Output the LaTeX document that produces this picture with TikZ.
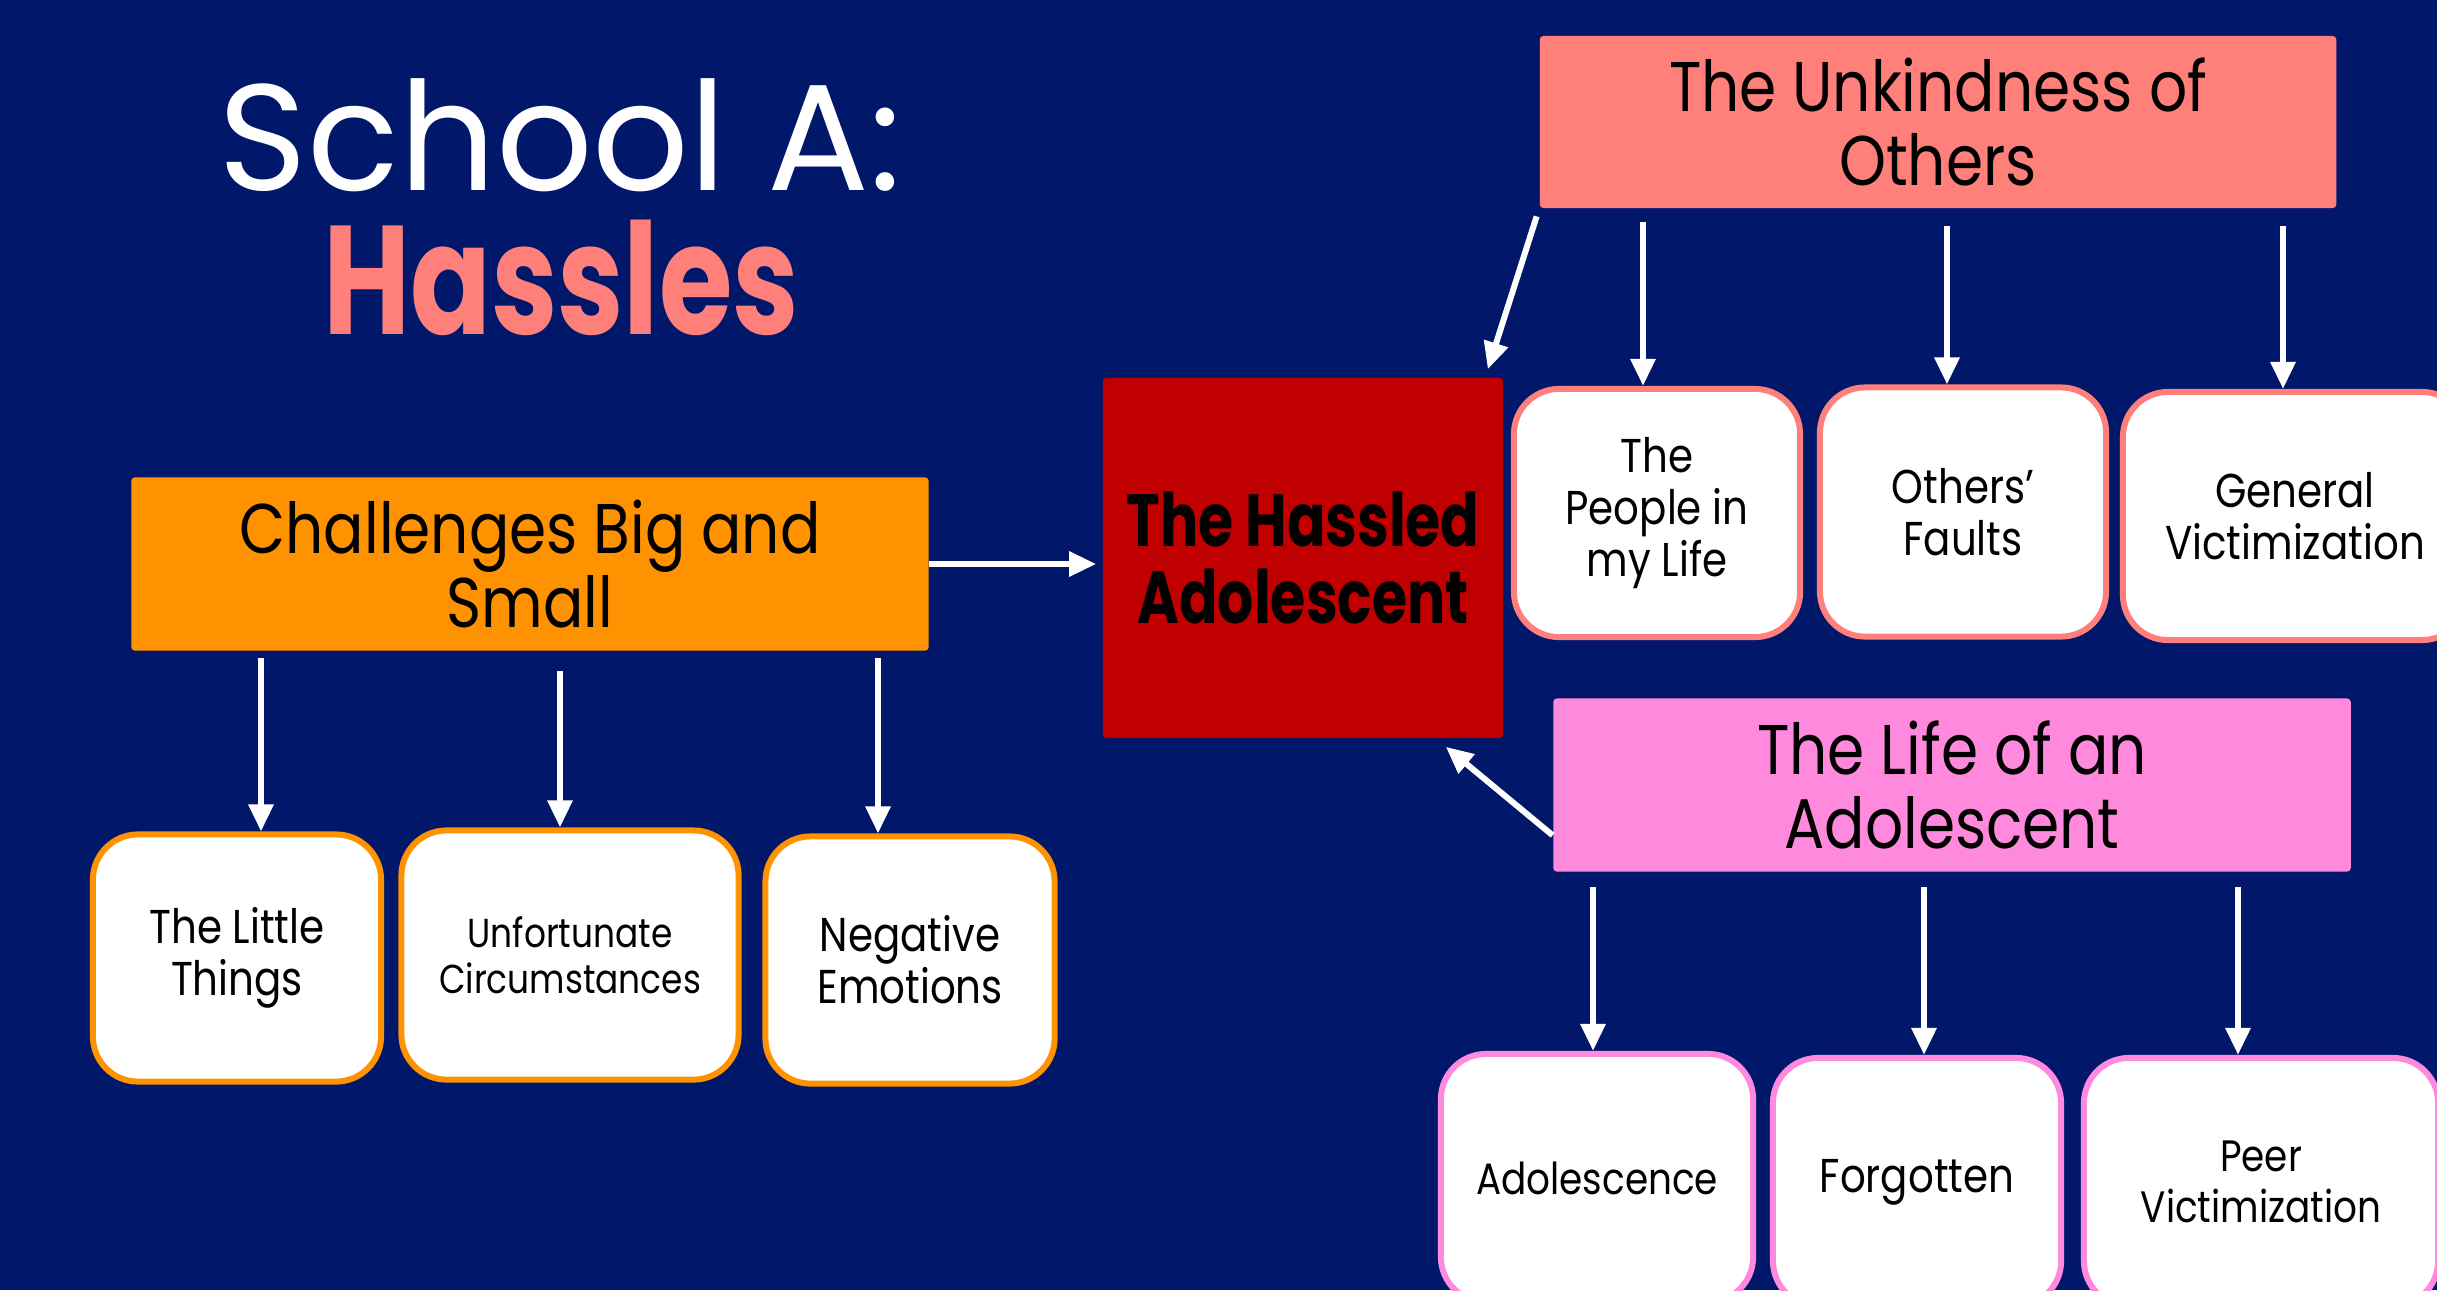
\documentclass[tikz,border=0pt]{standalone}
\usepackage{fontspec}
\setmainfont{Poppins}[FakeStretch=0.85]
\newfontfamily\titlefont{Poppins}
\newfontfamily\narrowfont{Poppins}[FakeStretch=0.77]
\usetikzlibrary{arrows.meta,calc}
\definecolor{bgblue}{RGB}{1,24,106}
\definecolor{corange}{RGB}{255,146,0}
\definecolor{cred}{RGB}{192,0,0}
\definecolor{csalmon}{RGB}{255,127,123}
\definecolor{cpink}{RGB}{255,137,220}
\tikzset{
  cat/.style={rectangle, rounded corners=1pt, align=center, text=black, inner sep=0pt,
    font=\fontsize{20}{21}\selectfont},
  leaf/.style={rectangle, draw, fill=white, line width=0.06cm, rounded corners=0.45cm,
    align=center, text=black, inner sep=0pt, font=\fontsize{13.5}{14.8}\selectfont},
  arr/.style={draw=white, line width=0.06cm, -{Triangle[length=0.27cm,width=0.24cm]}},
}
\begin{document}
\begin{tikzpicture}[x=0.01cm,y=-0.01cm]
\useasboundingbox (0,0) rectangle (2437,1290);
\fill[bgblue] (0,0) rectangle (2437,1290);
\clip (0,0) rectangle (2437,1290);

% title
\node[anchor=base, text=white, font=\titlefont\fontsize{43}{48}\selectfont] (t1) at (560,190) {School A:};
\node[anchor=base, text=csalmon, font=\narrowfont\fontsize{44}{48}\selectfont\bfseries] (t2) at (561,334) {Hassles};

% category boxes
\node[cat, fill=corange, minimum width=7.97cm, minimum height=1.73cm] (c1) at (530,564) {Challenges Big and\\Small};
\node[cat, fill=cred, minimum width=4.00cm, minimum height=3.60cm, font=\narrowfont\fontsize{21}{21.7}\selectfont\bfseries] (h) at (1303,558) {The Hassled\\Adolescent};
\node[cat, fill=csalmon, minimum width=7.96cm, minimum height=1.72cm] (c2) at (1938,122) {The Unkindness of\\Others};
\node[cat, fill=cpink, minimum width=7.97cm, minimum height=1.73cm] (c3) at (1952,785) {The Life of an\\Adolescent};

% leaves of c1
\node[leaf, draw=corange, minimum width=2.88cm, minimum height=2.47cm] (l1) at (237,958) {The Little\\Things};
\node[leaf, draw=corange, minimum width=3.37cm, minimum height=2.49cm, font=\fontsize{11.5}{13}\selectfont] (l2) at (570,955) {Unfortunate\\Circumstances};
\node[leaf, draw=corange, minimum width=2.89cm, minimum height=2.47cm] (l3) at (910,960) {Negative\\Emotions};

% leaves of c2
\node[leaf, draw=csalmon, minimum width=2.86cm, minimum height=2.48cm] (p1) at (1657,513) {The\\People in\\my Life};
\node[leaf, draw=csalmon, minimum width=2.86cm, minimum height=2.49cm] (p2) at (1963,512) {Others’\\Faults};
\node[leaf, draw=csalmon, minimum width=3.44cm, minimum height=2.48cm] (p3) at (2295,516) {General\\Victimization};

% leaves of c3
\node[leaf, draw=cpink, minimum width=3.12cm, minimum height=2.48cm, font=\fontsize{12.5}{14}\selectfont] (a1) at (1597,1178) {Adolescence};
\node[leaf, draw=cpink, minimum width=2.88cm, minimum height=2.48cm] (a2) at (1917,1182) {Forgotten};
\node[leaf, draw=cpink, minimum width=3.54cm, minimum height=2.48cm, font=\fontsize{12.5}{14.5}\selectfont] (a3) at (2261,1182) {Peer\\Victimization};

% connectors
\draw[arr, shorten <=0.07cm] (261,0 |- c1.south) -- (261,0 |- l1.north);
\draw[arr, shorten <=0.20cm] (560,0 |- c1.south) -- (560,0 |- l2.north);
\draw[arr, shorten <=0.07cm] (878,0 |- c1.south) -- (878,0 |- l3.north);
\draw[arr, shorten >=0.06cm] (c1.east) -- (c1.east -| h.west);

\draw[arr, shorten <=0.08cm] (c2.south west) -- ($(h.north east)+(-16,-8)$);
\draw[arr, shorten <=0.13cm] (1643,0 |- c2.south) -- (1643,0 |- p1.north);
\draw[arr, shorten <=0.17cm] (1947,0 |- c2.south) -- (1947,0 |- p2.north);
\draw[arr, shorten <=0.17cm] (2283,0 |- c2.south) -- (2283,0 |- p3.north);

\draw[arr] ($(c3.south west)+(0,-37)$) -- ($(h.south east)+(-58,8)$);
\draw[arr, shorten <=0.15cm] (1593,0 |- c3.south) -- (1593,0 |- a1.north);
\draw[arr, shorten <=0.15cm] (1924,0 |- c3.south) -- (1924,0 |- a2.north);
\draw[arr, shorten <=0.15cm] (2238,0 |- c3.south) -- (2238,0 |- a3.north);
\end{tikzpicture}
\end{document}
